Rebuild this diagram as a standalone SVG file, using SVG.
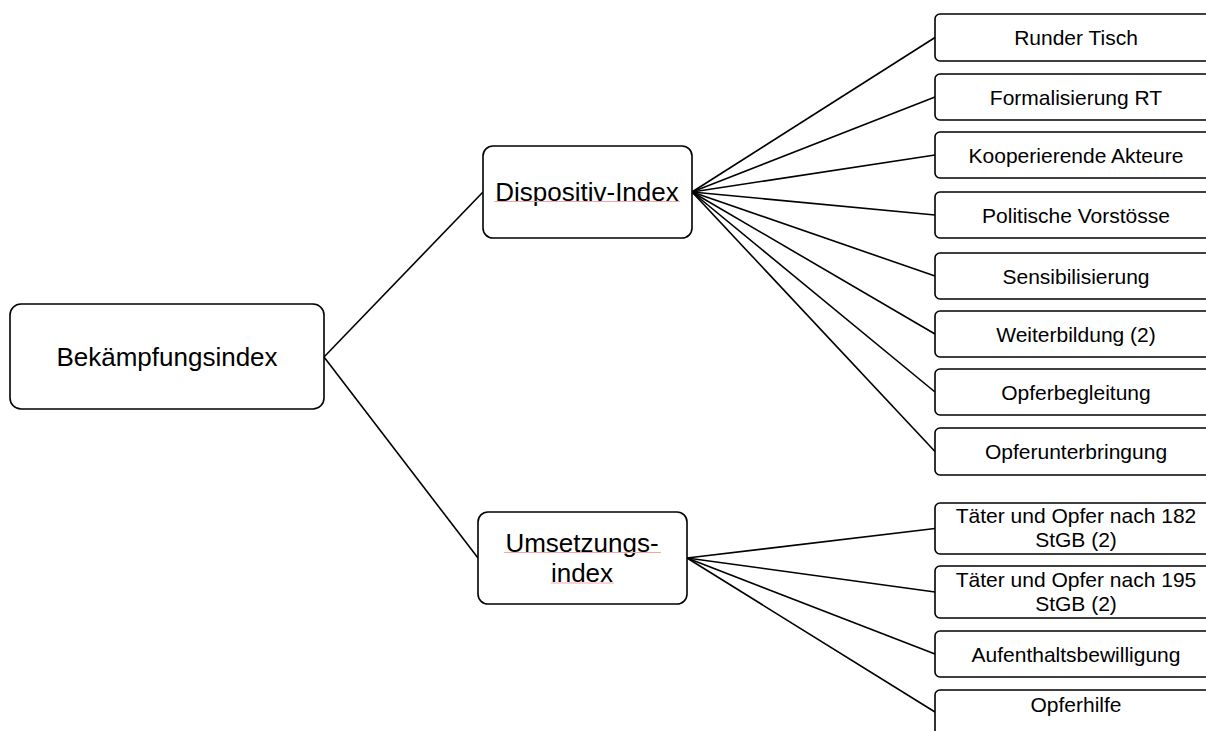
<svg xmlns="http://www.w3.org/2000/svg" width="1206" height="731" viewBox="0 0 1206 731">
<style>
.box{fill:#fff;stroke:#000;stroke-width:1.6}
.big{font-family:"Liberation Sans",Arial,sans-serif;font-size:26px;fill:#000;text-anchor:middle}
.sm{font-family:"Liberation Sans",Arial,sans-serif;font-size:21px;fill:#000;text-anchor:middle}
.con{stroke:#000;stroke-width:1.6;fill:none}
.sp{stroke:#f4a6a6;stroke-width:1}
</style>
<rect width="1206" height="731" fill="#fff"/>
<g id="connectors" class="con">
<line x1="324" y1="357" x2="483" y2="192"/>
<line x1="324" y1="357" x2="478" y2="558"/>
<line x1="692" y1="192" x2="935" y2="37.5"/>
<line x1="692" y1="192" x2="935" y2="97"/>
<line x1="692" y1="192" x2="935" y2="155"/>
<line x1="692" y1="192" x2="935" y2="215"/>
<line x1="692" y1="192" x2="935" y2="276"/>
<line x1="692" y1="192" x2="935" y2="334"/>
<line x1="692" y1="192" x2="935" y2="392"/>
<line x1="692" y1="192" x2="935" y2="451.5"/>
<line x1="687" y1="558" x2="935" y2="528.5"/>
<line x1="687" y1="558" x2="935" y2="592"/>
<line x1="687" y1="558" x2="935" y2="654"/>
<line x1="687" y1="558" x2="935" y2="712"/>
</g>
<g id="n-bekaempfung"><rect class="box" x="10" y="304" width="314" height="105" rx="11"/><text class="big" x="167" y="366">Bekämpfungsindex</text></g>
<g id="n-dispositiv"><rect class="box" x="483" y="146" width="209" height="92" rx="10"/><text class="big" x="587" y="201">Dispositiv-Index</text><line class="sp" x1="494" y1="201.5" x2="680" y2="201.5"/></g>
<g id="n-umsetzung"><rect class="box" x="478" y="512" width="209" height="92" rx="10"/><text class="big" x="582" y="551.5">Umsetzungs-</text><text class="big" x="582" y="581.5">index</text><line class="sp" x1="504" y1="552.5" x2="661" y2="552.5"/><line class="sp" x1="551" y1="583" x2="614" y2="583"/></g>
<g id="n-runder-tisch"><rect class="box" x="935" y="14" width="290" height="47" rx="5"/><text class="sm" x="1076" y="45">Runder Tisch</text></g>
<g id="n-formalisierung"><rect class="box" x="935" y="74" width="290" height="46" rx="5"/><text class="sm" x="1076" y="104.5">Formalisierung RT</text></g>
<g id="n-kooperierende"><rect class="box" x="935" y="132" width="290" height="46" rx="5"/><text class="sm" x="1076" y="162.5">Kooperierende Akteure</text></g>
<g id="n-politische"><rect class="box" x="935" y="192" width="290" height="46" rx="5"/><text class="sm" x="1076" y="222.5">Politische Vorstösse</text></g>
<g id="n-sensibilisierung"><rect class="box" x="935" y="253" width="290" height="46" rx="5"/><text class="sm" x="1076" y="283.5">Sensibilisierung</text></g>
<g id="n-weiterbildung"><rect class="box" x="935" y="311" width="290" height="46" rx="5"/><text class="sm" x="1076" y="341.5">Weiterbildung (2)</text></g>
<g id="n-opferbegleitung"><rect class="box" x="935" y="369" width="290" height="46" rx="5"/><text class="sm" x="1076" y="399.5">Opferbegleitung</text></g>
<g id="n-opferunterbringung"><rect class="box" x="935" y="428" width="290" height="47" rx="5"/><text class="sm" x="1076" y="459">Opferunterbringung</text></g>
<g id="n-taeter182"><rect class="box" x="935" y="503" width="290" height="51" rx="5"/><text class="sm" x="1076" y="523">Täter und Opfer nach 182</text><text class="sm" x="1076" y="547">StGB (2)</text></g>
<g id="n-taeter195"><rect class="box" x="935" y="566" width="290" height="52" rx="5"/><text class="sm" x="1076" y="587">Täter und Opfer nach 195</text><text class="sm" x="1076" y="611">StGB (2)</text></g>
<g id="n-aufenthalt"><rect class="box" x="935" y="631" width="290" height="46" rx="5"/><text class="sm" x="1076" y="661.5">Aufenthaltsbewilligung</text></g>
<g id="n-opferhilfe"><rect class="box" x="935" y="690" width="290" height="52" rx="5"/><text class="sm" x="1076" y="712">Opferhilfe</text></g>
</svg>
